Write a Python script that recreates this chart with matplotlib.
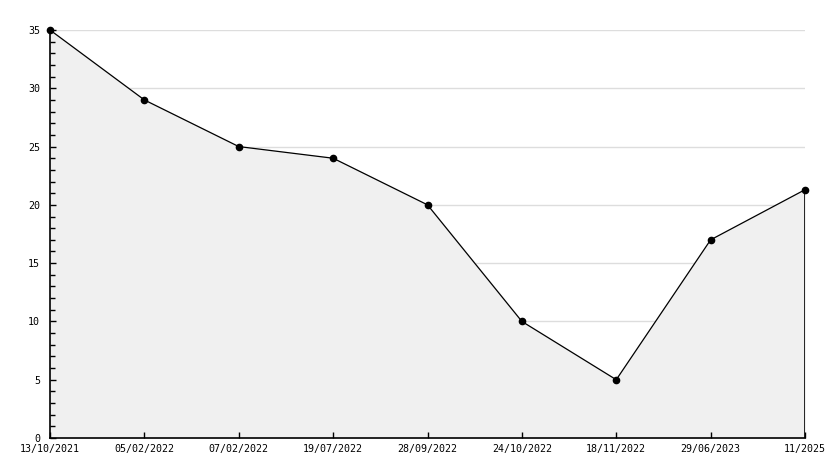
import matplotlib
matplotlib.use("Agg")
import matplotlib.pyplot as plt
from matplotlib.ticker import MultipleLocator

labels = ["13/10/2021", "05/02/2022", "07/02/2022", "19/07/2022", "28/09/2022",
          "24/10/2022", "18/11/2022", "29/06/2023", "11/2025"]
values = [35, 29, 25, 24, 20, 10, 5, 17, 21.3]
grid_levels = [5, 10, 15, 20, 25, 30, 35]

plt.rcParams['font.family'] = ['DejaVu Sans Mono']

fig = plt.figure(figsize=(8.34, 4.68), dpi=100)
W, H = 834, 468
ax = fig.add_axes([50 / W, 1 - 438 / H, 755 / W, 408 / H])

x = list(range(len(values)))
for g in grid_levels:
    ax.axhline(g, color="#dddddd", lw=1, zorder=0.5)
ax.fill_between(x, values, 0, color="#f0f0f0", zorder=1)
ax.plot(x, values, color="black", lw=0.9, marker="o", ms=4.5, zorder=5, clip_on=False)
ax.vlines(x[-1], 0, values[-1], color="black", lw=1.2, zorder=3)

ax.set_xlim(0, len(values) - 1)
ax.set_ylim(0, 35)
ax.set_xticks(x)
ax.set_xticklabels(labels, fontsize=7.2)
ax.yaxis.set_major_locator(MultipleLocator(5))
ax.yaxis.set_minor_locator(MultipleLocator(1))
ax.tick_params(axis="y", which="major", direction="in", length=4.5, width=1, labelsize=7.2, pad=7)
ax.tick_params(axis="y", which="minor", direction="in", length=3.5, width=1)
ax.tick_params(axis="x", which="major", direction="in", length=4.5, width=1, pad=4)
ax.set_axisbelow(False)
for s in ["top", "right"]:
    ax.spines[s].set_visible(False)
for s in ["left", "bottom"]:
    ax.spines[s].set_linewidth(1.2)

fig.savefig("out.png", dpi=100)
